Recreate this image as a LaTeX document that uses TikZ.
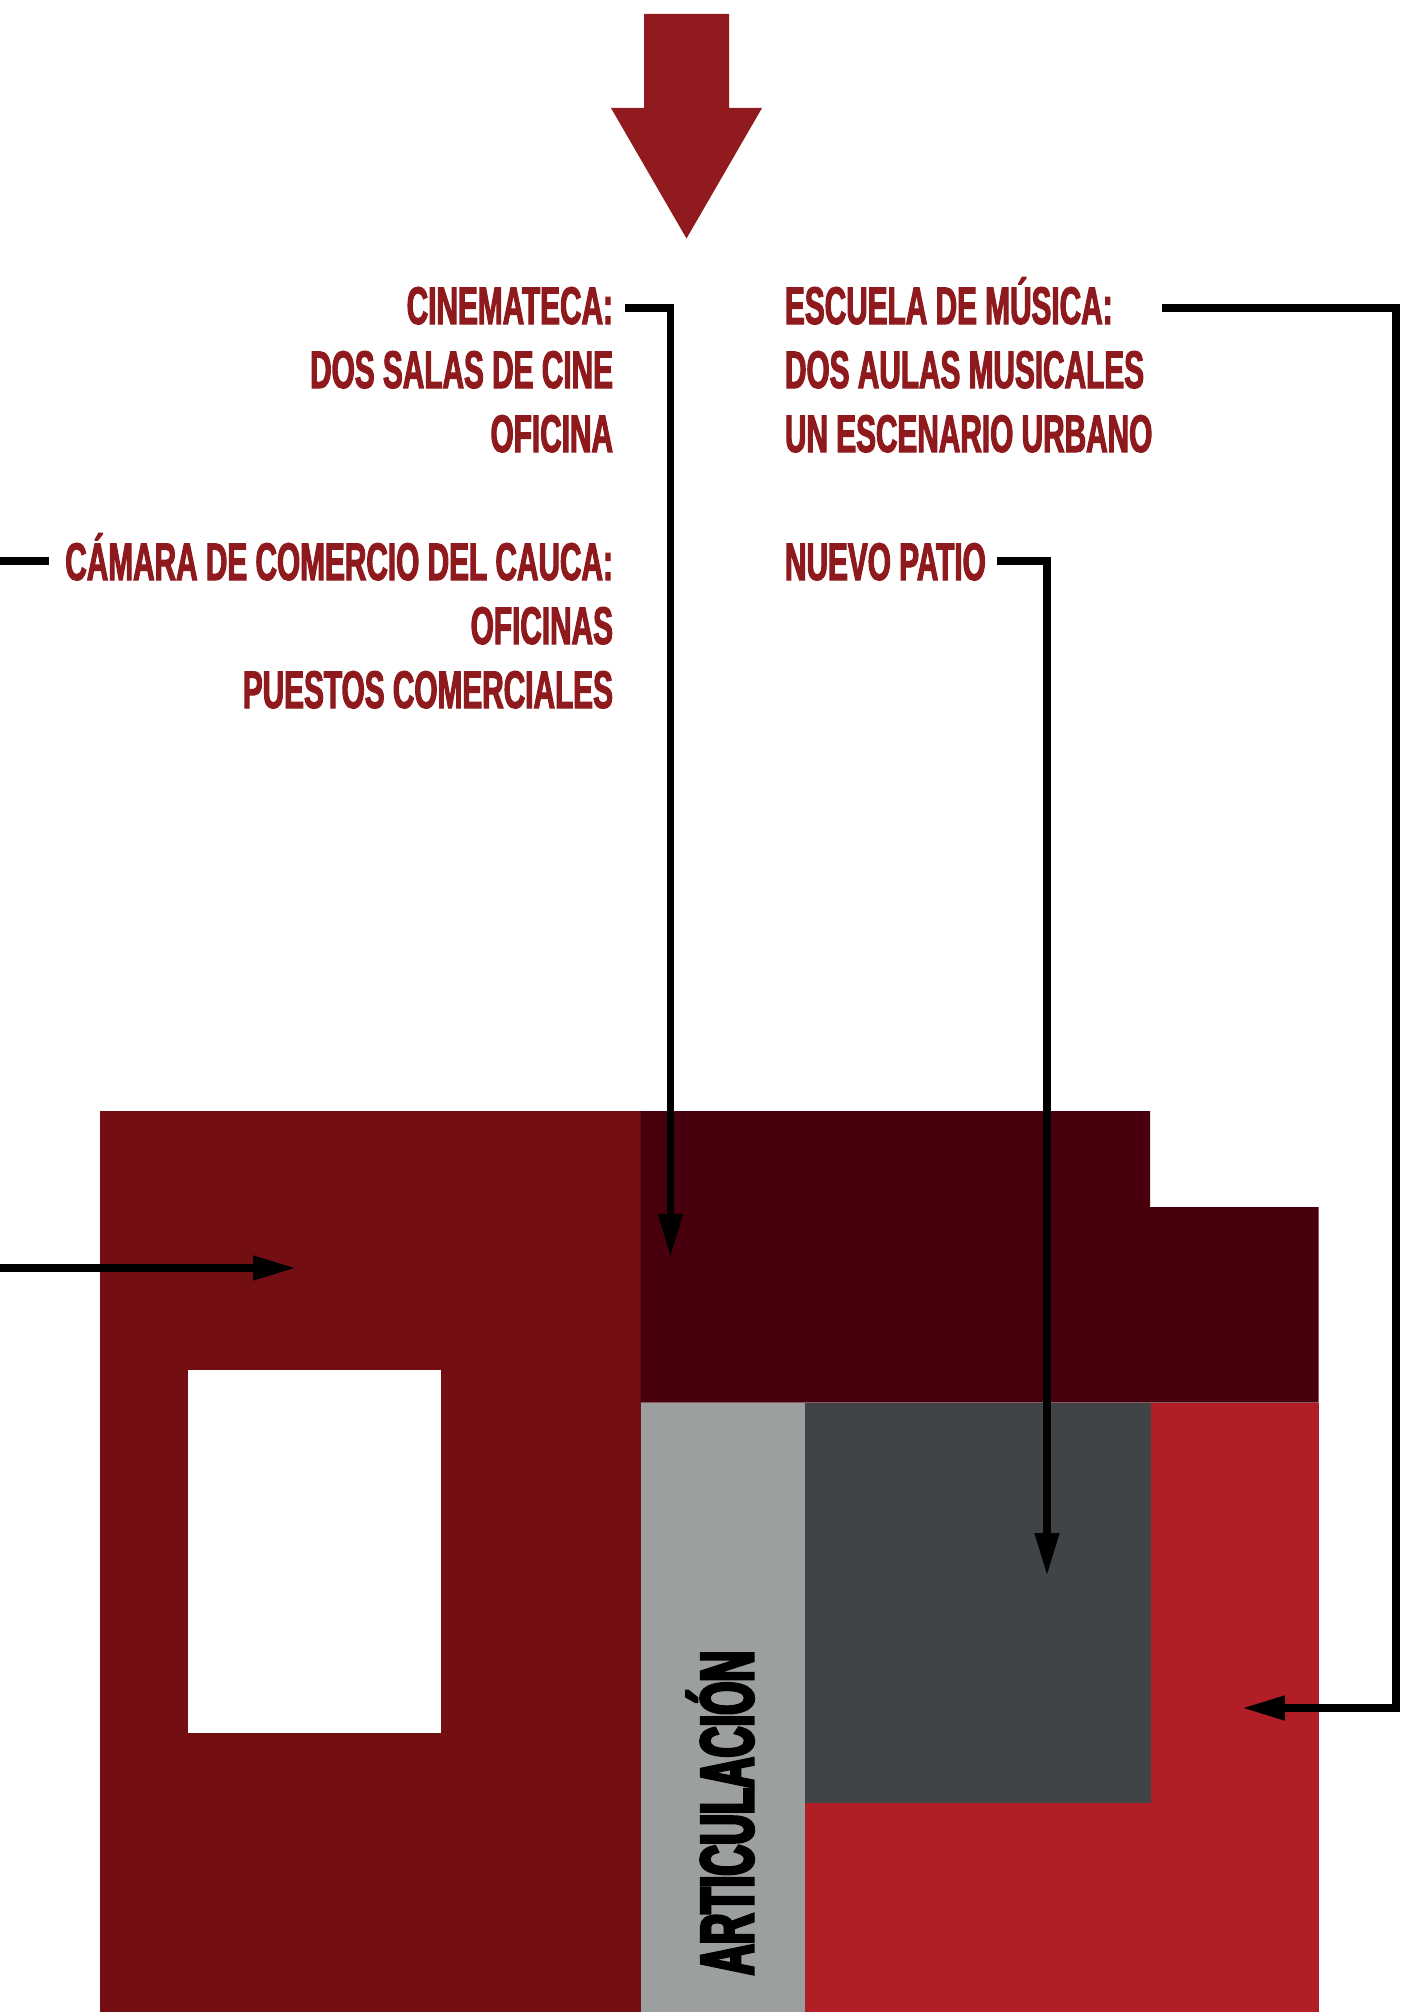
\documentclass[tikz,border=0pt]{standalone}
\usepackage{fontspec}
\usetikzlibrary{arrows.meta}
\newfontfamily\labfont{Liberation Sans}[FakeStretch=0.562,FakeBold=2]
\newfontfamily\artfont{Liberation Sans}[FakeStretch=0.568,FakeBold=4]
\definecolor{txtred}{HTML}{8E1A1E}
\definecolor{arrred}{HTML}{901A1D}
\definecolor{blockred}{HTML}{730F13}
\definecolor{maroon}{HTML}{47000C}
\definecolor{lgray}{HTML}{9C9FA0}
\definecolor{dgray}{HTML}{404447}
\definecolor{brred}{HTML}{B21E25}
\begin{document}
\begin{tikzpicture}[x=1pt,y=-1pt,
  lbl/.style={inner sep=0pt, outer sep=0pt, text=txtred, font=\labfont\bfseries\fontsize{53}{64}\selectfont},
  lblL/.style={lbl, anchor=base east},
  lblR/.style={lbl, anchor=base west},
  conn/.style={line width=7.5pt, draw=black, line join=miter},
  tipped/.style={-{Triangle[length=43pt,width=23pt]}}]
\useasboundingbox (0,0) rectangle (1400,2012);
\clip (0,0) rectangle (1400,2012);

% big arrow
\fill[arrred] (644,14) -- (729,14) -- (729,108) -- (762,108) -- (686.5,238.5) -- (611,108) -- (644,108) -- cycle;

% blocks
\fill[blockred] (100,1111) rectangle (640.5,2020);
\fill[white] (187.5,1369.5) rectangle (440.5,1733);
\fill[maroon] (640.5,1111) -- (1150,1111) -- (1150,1207) -- (1318.5,1207) -- (1318.5,1402.5) -- (640.5,1402.5) -- cycle;
\fill[lgray] (640.5,1402.5) rectangle (804.5,2020);
\fill[brred] (804.5,1402.5) rectangle (1318.5,2020);
\fill[dgray] (804.5,1402.5) rectangle (1150.5,1803);

\node[inner sep=0pt, outer sep=0pt, rotate=90, anchor=base west, text=black,
  font=\artfont\bfseries\fontsize{75}{80}\selectfont] (art) at (753,1975) {ARTICULACIÓN};

% labels
\node[lblL] (cine1) at (613,324) {CINEMATECA:};
\node[lblL] (cine2) at (613,388) {DOS SALAS DE CINE};
\node[lblL] (cine3) at (613,452) {OFICINA};
\node[lblL] (cam1) at (613,580) {CÁMARA DE COMERCIO DEL CAUCA:};
\node[lblL] (cam2) at (613,644) {OFICINAS};
\node[lblL] (cam3) at (613,708) {PUESTOS COMERCIALES};
\node[lblR] (esc1) at (785,324) {ESCUELA DE MÚSICA:};
\node[lblR] (esc2) at (785,388) {DOS AULAS MUSICALES};
\node[lblR] (esc3) at (785,452) {UN ESCENARIO URBANO};
\node[lblR] (pat) at (785,580) {NUEVO PATIO};

% connector ends
\coordinate (cineS) at (625,308);
\coordinate (cineT) at (670.5,1257);
\coordinate (camS) at (49,561);
\coordinate (camC1) at (-30,561);
\coordinate (camC2) at (-30,1268);
\coordinate (camT) at (296,1268);
\coordinate (escS) at (1162,308);
\coordinate (escC1) at (1396,308);
\coordinate (escC2) at (1396,1708);
\coordinate (escT) at (1242,1708);
\coordinate (patS) at (997,561);
\coordinate (patT) at (1047,1576);

\draw[conn,tipped] (cineS) -| (cineT);
\draw[conn,tipped] (camS) -- (camC1) -- (camC2) -- (camT);
\draw[conn,tipped] (escS) -- (escC1) -- (escC2) -- (escT);
\draw[conn,tipped] (patS) -| (patT);
\end{tikzpicture}
\end{document}
